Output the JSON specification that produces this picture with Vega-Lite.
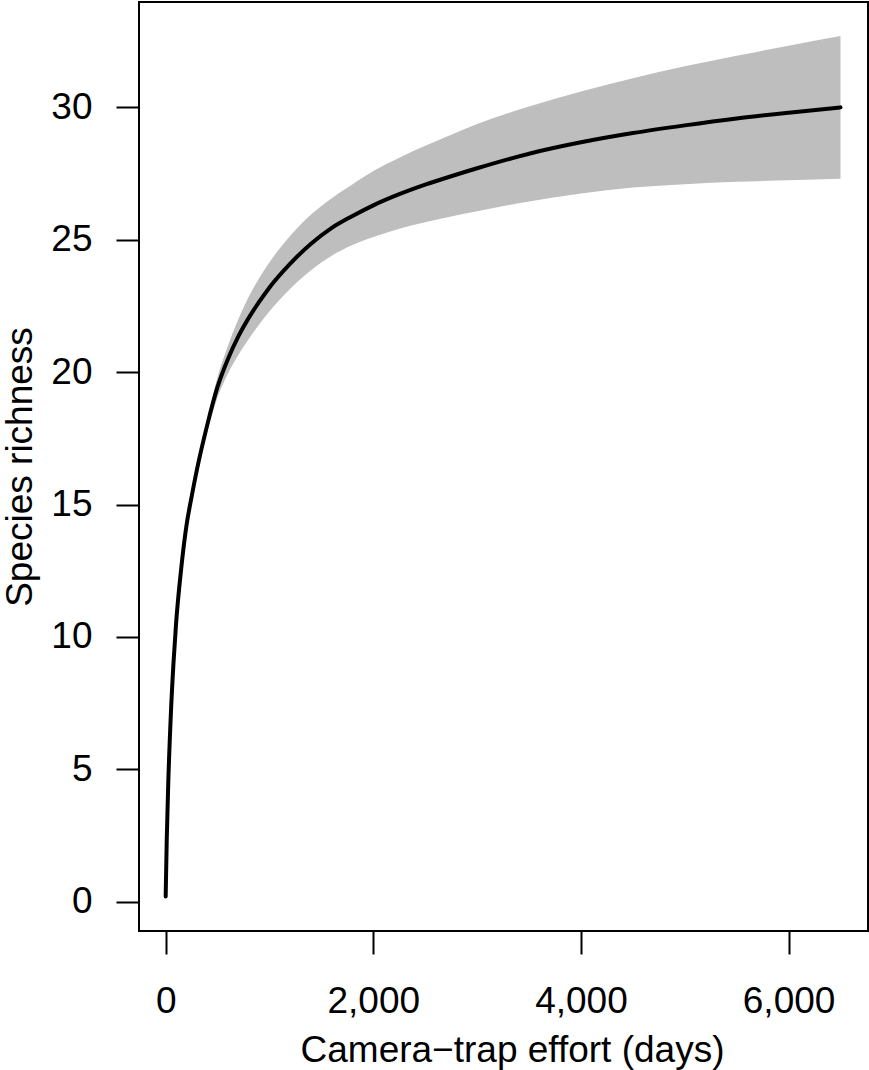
{
  "$schema": "https://vega.github.io/schema/vega-lite/v6.json",
  "width": 729,
  "height": 929,
  "autosize": {"type": "none"},
  "padding": {"left": 139, "top": 2, "right": 1, "bottom": 139},
  "background": "white",
  "config": {
    "view": {"stroke": "black", "strokeWidth": 2},
    "font": "Liberation Sans",
    "axis": {
      "domain": false,
      "grid": false,
      "tickSize": 23,
      "tickWidth": 2,
      "tickColor": "black",
      "labelFont": "Liberation Sans",
      "labelFontSize": 37,
      "labelColor": "black",
      "labelFlush": false,
      "labelOverlap": false,
      "labelBound": false,
      "titleFont": "Liberation Sans",
      "titleFontSize": 37,
      "titleFontWeight": "normal",
      "titleColor": "black"
    }
  },
  "data": {
    "values": [
      {"effort": 0, "richness": 0.2, "lower": 0.2, "upper": 0.2},
      {"effort": 10, "richness": 2.3, "lower": 2.3, "upper": 2.3},
      {"effort": 25, "richness": 4.5, "lower": 4.5, "upper": 4.5},
      {"effort": 50, "richness": 7.1, "lower": 7.1, "upper": 7.1},
      {"effort": 75, "richness": 9.0, "lower": 9.0, "upper": 9.0},
      {"effort": 100, "richness": 10.5, "lower": 10.5, "upper": 10.5},
      {"effort": 150, "richness": 12.6, "lower": 12.58, "upper": 12.62},
      {"effort": 200, "richness": 14.2, "lower": 14.15, "upper": 14.25},
      {"effort": 250, "richness": 15.3, "lower": 15.22, "upper": 15.37},
      {"effort": 300, "richness": 16.3, "lower": 16.18, "upper": 16.42},
      {"effort": 400, "richness": 18.0, "lower": 17.75, "upper": 18.22},
      {"effort": 500, "richness": 19.45, "lower": 19.05, "upper": 19.82},
      {"effort": 600, "richness": 20.5, "lower": 19.95, "upper": 21.0},
      {"effort": 700, "richness": 21.35, "lower": 20.65, "upper": 22.0},
      {"effort": 800, "richness": 22.05, "lower": 21.25, "upper": 22.85},
      {"effort": 900, "richness": 22.65, "lower": 21.8, "upper": 23.55},
      {"effort": 1000, "richness": 23.2, "lower": 22.3, "upper": 24.15},
      {"effort": 1200, "richness": 24.1, "lower": 23.15, "upper": 25.15},
      {"effort": 1400, "richness": 24.85, "lower": 23.85, "upper": 25.95},
      {"effort": 1600, "richness": 25.45, "lower": 24.4, "upper": 26.57},
      {"effort": 1800, "richness": 25.9, "lower": 24.8, "upper": 27.1},
      {"effort": 2000, "richness": 26.3, "lower": 25.1, "upper": 27.6},
      {"effort": 2250, "richness": 26.72, "lower": 25.42, "upper": 28.1},
      {"effort": 2500, "richness": 27.08, "lower": 25.66, "upper": 28.55},
      {"effort": 2750, "richness": 27.4, "lower": 25.88, "upper": 28.97},
      {"effort": 3000, "richness": 27.7, "lower": 26.08, "upper": 29.37},
      {"effort": 3500, "richness": 28.25, "lower": 26.45, "upper": 30.03},
      {"effort": 4000, "richness": 28.68, "lower": 26.75, "upper": 30.6},
      {"effort": 4500, "richness": 29.03, "lower": 26.97, "upper": 31.1},
      {"effort": 5000, "richness": 29.32, "lower": 27.1, "upper": 31.55},
      {"effort": 5500, "richness": 29.58, "lower": 27.19, "upper": 31.95},
      {"effort": 6000, "richness": 29.8, "lower": 27.25, "upper": 32.33},
      {"effort": 6500, "richness": 30.0, "lower": 27.3, "upper": 32.7}
    ]
  },
  "encoding": {
    "x": {
      "field": "effort",
      "type": "quantitative",
      "scale": {"domain": [-257, 6765], "nice": false, "zero": false},
      "axis": {
        "values": [0, 2000, 4000, 6000],
        "format": ",d",
        "title": "Camera−trap effort (days)",
        "labelPadding": 29,
        "titlePadding": 13,
        "titleX": 373
      }
    }
  },
  "layer": [
    {
      "mark": {"type": "area", "color": "#BEBEBE", "interpolate": "monotone"},
      "encoding": {
        "y": {
          "field": "lower",
          "type": "quantitative",
          "scale": {"domain": [-1.106, 33.98], "nice": false, "zero": false},
          "axis": {
            "values": [0, 5, 10, 15, 20, 25, 30],
            "title": "Species richness",
            "labelAngle": 0,
            "labelPadding": 24,
            "titlePadding": 11
          }
        },
        "y2": {"field": "upper"}
      }
    },
    {
      "mark": {"type": "line", "color": "black", "strokeWidth": 4, "interpolate": "monotone", "strokeCap": "round"},
      "encoding": {
        "y": {
          "field": "richness",
          "type": "quantitative",
          "title": "Species richness"
        }
      }
    }
  ]
}
